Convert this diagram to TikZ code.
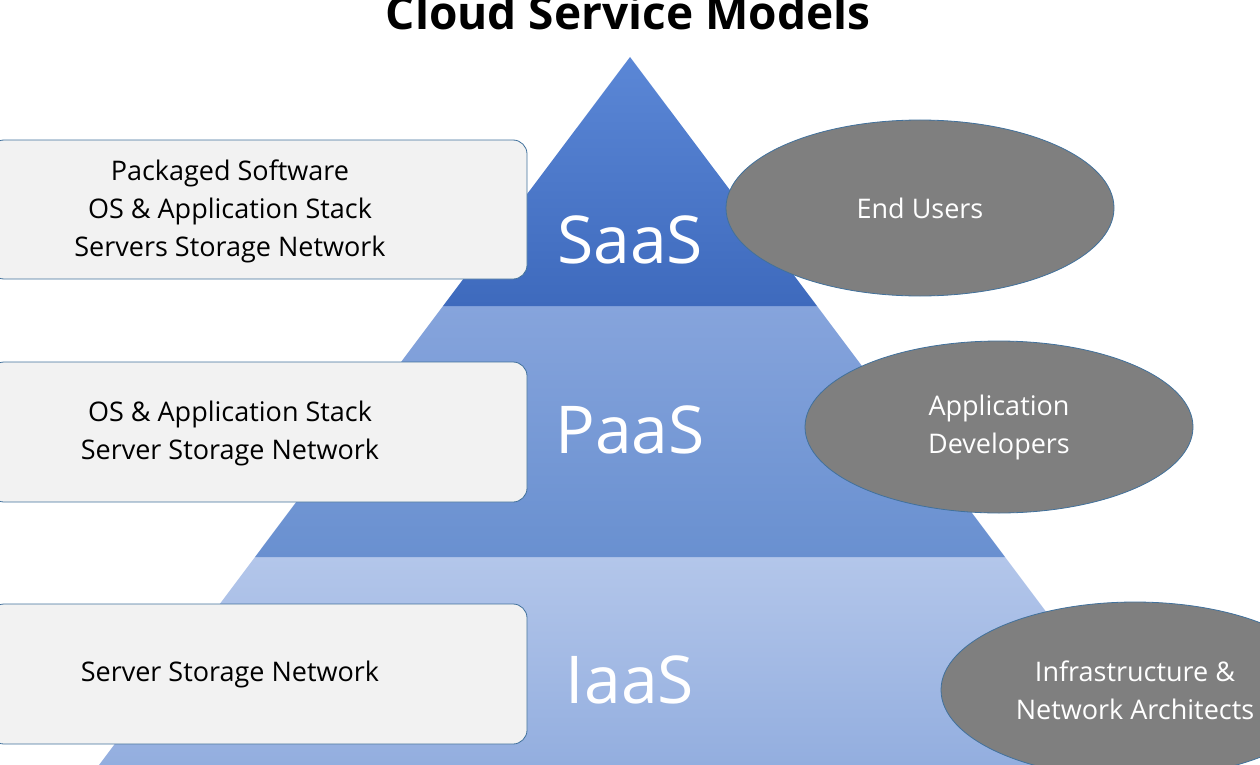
\documentclass[tikz,border=0pt]{standalone}
\usepackage{fontspec}
\setmainfont{Open Sans}
\usetikzlibrary{shapes.geometric}
\definecolor{saasTop}{HTML}{5B87D6}
\definecolor{saasBot}{HTML}{3E6ABD}
\definecolor{paasTop}{HTML}{86A4DC}
\definecolor{paasBot}{HTML}{6990D0}
\definecolor{iaasTop}{HTML}{B3C6EA}
\definecolor{iaasBot}{HTML}{93AEDF}
\definecolor{edge}{HTML}{41719C}
\definecolor{userFill}{HTML}{7F7F7F}
\definecolor{boxFill}{HTML}{F2F2F2}

\begin{document}
\begin{tikzpicture}[
    x=1pt,y=-1pt,
    layer/.style={font=\fontsize{66}{66}\selectfont,text=white},
    stack/.style={draw=edge,fill=boxFill,rounded corners=14pt,line width=.8pt,
      minimum width=537pt},
    stacktext/.style={align=center,font=\fontsize{27}{38}\selectfont},
    users/.style={ellipse,draw=edge,fill=userFill,line width=.8pt,
      minimum width=388pt,align=center,text=white,font=\fontsize{27}{38}\selectfont}
    ]
    \useasboundingbox (0,0) rectangle (1260,765);
    \clip (0,0) rectangle (1260,765);
    % pyramid bands
    \shade[top color=iaasTop,bottom color=iaasBot] (255,557) -- (1005,557) -- (1161,765) -- (99,765) -- cycle;
    \shade[top color=paasTop,bottom color=paasBot] (443,306) -- (817,306) -- (1005,557) -- (255,557) -- cycle;
    \shade[top color=saasTop,bottom color=saasBot] (630,57) -- (817,306) -- (443,306) -- cycle;
    \node[font=\bfseries\fontsize{46}{46}\selectfont] (title) at (628,12) {Cloud Service Models};
    \node[layer] (saas) at (630,240) {SaaS};
    \node[layer] (paas) at (630,430) {PaaS};
    \node[layer] (iaas) at (630,680) {IaaS};
    % left boxes
    \node[stack,minimum height=139pt] (sw) at (258.5,209.5) {};
    \node[stack,minimum height=140pt] (os) at (258.5,432) {};
    \node[stack,minimum height=140pt] (srv) at (258.5,674) {};
    \node[stacktext] (swtext) at (230,211) {Packaged Software\\OS \& Application Stack\\Servers Storage Network};
    \node[stacktext] (ostext) at (230,433) {OS \& Application Stack\\Server Storage Network};
    \node[stacktext] (srvtext) at (230,674) {Server Storage Network};
    % users
    \node[users,minimum height=176pt] (end) at (920,208) {End Users};
    \node[users,minimum height=172pt] (dev) at (999,427) {Application\\Developers};
    \node[users,minimum height=176pt] (arch) at (1135,690) {Infrastructure \&\\Network Architects};
\end{tikzpicture}
\end{document}
